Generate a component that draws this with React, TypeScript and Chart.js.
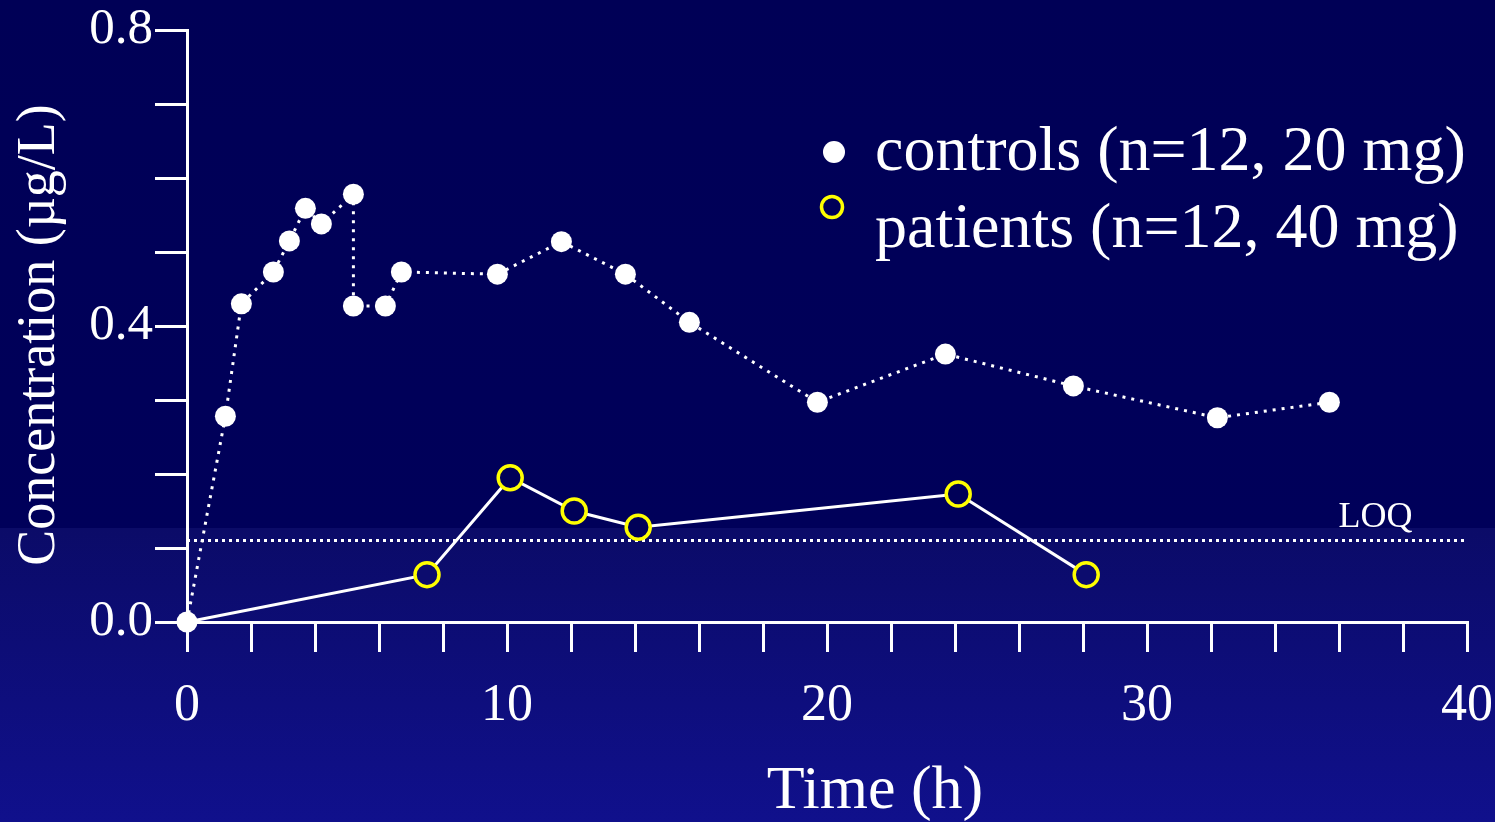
import React, { useEffect, useRef } from 'react';
import { Chart, registerables } from 'chart.js';

Chart.register(...registerables);

// ---- data ----
const controlsTime = [0, 1.2, 1.7, 2.7, 3.2, 3.7, 4.2, 5.2, 5.2, 6.2, 6.7, 9.7, 11.7, 13.7, 15.7, 19.7, 23.7, 27.7, 32.2, 35.7];
const controlsConc = [0, 0.278, 0.43, 0.473, 0.515, 0.559, 0.538, 0.578, 0.427, 0.427, 0.473, 0.47, 0.514, 0.47, 0.405, 0.297, 0.362, 0.319, 0.276, 0.297];
const patientsTime = [0, 7.5, 10.1, 12.1, 14.1, 24.1, 28.1];
const patientsConc = [0, 0.064, 0.195, 0.15, 0.128, 0.173, 0.064];
const loqValue = 0.11;
const xTickLabels = [0, 10, 20, 30, 40];
const yTickLabels = [0, 0.4, 0.8];
const seriesLabels = ['controls (n=12, 20 mg)', 'patients (n=12, 40 mg)'];
const loqLabel = 'LOQ';
const xTitle = 'Time (h)';
const yTitle = 'Concentration (µg/L)';

// ---- styles ----
const SERIF = "'Liberation Serif', 'Times New Roman', serif";
const UPPER_BG = 'rgb(0,0,88)';
const LOWER_BG = 'rgb(12,12,110)';
const BAND_VALUE = 0.126;
const YELLOW = '#ffff00';

export default function App() {
  const ref = useRef<HTMLCanvasElement | null>(null);

  useEffect(() => {
    document.body.style.margin = '0';
    document.body.style.overflow = 'hidden';
    if (!ref.current) return;

    const overlay = {
      id: 'overlay',
      afterDraw(chart: any) {
        const ctx = chart.ctx as CanvasRenderingContext2D;
        const xs = chart.scales.x;
        const ys = chart.scales.y;
        const ds = chart.data.datasets;
        ctx.save();
        // legend
        ctx.textAlign = 'left';
        ctx.textBaseline = 'alphabetic';
        ctx.font = `64px ${SERIF}`;
        ctx.beginPath();
        ctx.arc(834, 152, 11, 0, Math.PI * 2);
        ctx.fillStyle = ds[0].pointBackgroundColor;
        ctx.fill();
        ctx.fillStyle = '#ffffff';
        ctx.fillText(ds[0].label, 875, 170);
        ctx.beginPath();
        ctx.arc(832, 207, 10.5, 0, Math.PI * 2);
        ctx.strokeStyle = ds[1].pointBorderColor;
        ctx.lineWidth = 3.5;
        ctx.stroke();
        ctx.fillStyle = '#ffffff';
        ctx.fillText(ds[1].label, 875, 247);

        // LOQ label
        ctx.font = `36px ${SERIF}`;
        ctx.textAlign = 'right';
        ctx.fillText(loqLabel, xs.getPixelForValue(38.3), ys.getPixelForValue(loqValue) - 14);

        // x title
        ctx.font = `62px ${SERIF}`;
        ctx.textAlign = 'center';
        ctx.fillText(xTitle, xs.getPixelForValue(21.5), 808);

        // y title
        ctx.translate(40, 335);
        ctx.rotate(-Math.PI / 2);
        ctx.font = `54px ${SERIF}`;
        ctx.textAlign = 'center';
        ctx.textBaseline = 'middle';
        ctx.fillText(yTitle, 0, 0);
        ctx.restore();
      },
    };

    const chart = new Chart(ref.current, {
      type: 'scatter',
      data: {
        datasets: [
          {
            label: seriesLabels[0],
            data: controlsTime.map((t, i) => ({ x: t, y: controlsConc[i] })),
            showLine: true,
            borderColor: '#ffffff',
            borderWidth: 3,
            borderDash: [3, 6],
            pointRadius: 10.5,
            pointBackgroundColor: '#ffffff',
            pointBorderWidth: 0,
            clip: false,
            order: 1,
          } as any,
          {
            label: seriesLabels[1],
            data: patientsTime.map((t, i) => ({ x: t, y: patientsConc[i] })),
            showLine: true,
            borderColor: '#ffffff',
            borderWidth: 3,
            pointRadius: (c: any) => (c.dataIndex === 0 ? 0 : 12),
            pointBorderColor: YELLOW,
            pointBorderWidth: 3.5,
            pointBackgroundColor: (c: any) => {
              const v = c.raw ? c.raw.y : 1;
              return v < BAND_VALUE ? LOWER_BG : UPPER_BG;
            },
            clip: false,
            order: 2,
          } as any,
          {
            label: 'LOQ',
            data: [{ x: 0, y: loqValue }, { x: 40, y: loqValue }],
            showLine: true,
            borderColor: '#ffffff',
            borderWidth: 3,
            borderDash: [3, 4],
            pointRadius: 0,
            clip: false,
            order: 3,
          } as any,
        ],
      },
      options: {
        animation: false,
        responsive: true,
        maintainAspectRatio: false,
        layout: { padding: { top: 30, right: 28, left: 0, bottom: 0 } },
        plugins: {
          legend: { display: false },
          tooltip: { enabled: false },
        },
        scales: {
          x: {
            type: 'linear',
            min: 0,
            max: 40,
            afterFit: (s: any) => {
              s.height = 200;
              s.paddingLeft = 0;
              s.paddingRight = 0;
            },
            border: { display: true, color: '#ffffff', width: 3 },
            grid: { display: true, drawOnChartArea: false, drawTicks: true, tickLength: 30, color: '#ffffff', lineWidth: 3 },
            ticks: {
              stepSize: 2,
              autoSkip: false,
              maxRotation: 0,
              color: '#ffffff',
              padding: 28,
              font: { family: SERIF, size: 52, lineHeight: 1 },
              callback: (v: any) => (xTickLabels.includes(Number(v)) ? String(v) : ''),
            },
          },
          y: {
            type: 'linear',
            min: 0,
            max: 0.8,
            afterFit: (s: any) => {
              s.width = 187;
              s.paddingTop = 0;
              s.paddingBottom = 0;
            },
            border: { display: true, color: '#ffffff', width: 3 },
            grid: { display: true, drawOnChartArea: false, drawTicks: true, tickLength: 32, color: '#ffffff', lineWidth: 3 },
            ticks: {
              stepSize: 0.1,
              autoSkip: false,
              color: '#ffffff',
              padding: 2,
              font: { family: SERIF, size: 51, lineHeight: 1 },
              callback: (v: any) => {
                const n = Number(v);
                return yTickLabels.some((t) => Math.abs(t - n) < 1e-6) ? n.toFixed(1) : '';
              },
            },
          },
        },
      },
      plugins: [overlay],
    });
    return () => chart.destroy();
  }, []);

  return (
    <div
      style={{
        width: 1495,
        height: 822,
        position: 'relative',
        background:
          'linear-gradient(to bottom, rgb(0,0,86) 0px, rgb(0,0,90) 528px, rgb(11,11,104) 528px, rgb(16,16,140) 822px)',
      }}
    >
      <canvas ref={ref} />
    </div>
  );
}
